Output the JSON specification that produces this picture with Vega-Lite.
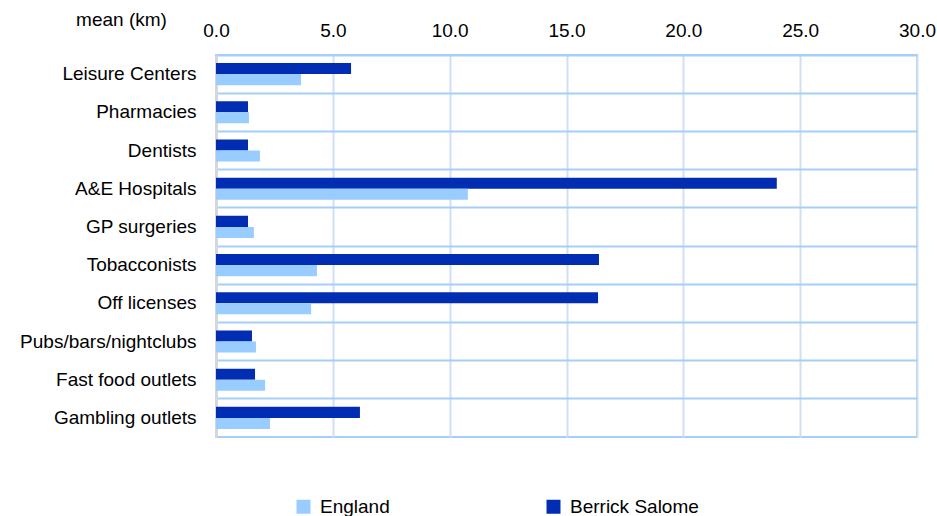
{
  "$schema": "https://vega.github.io/schema/vega-lite/v6.json",
  "width": 701,
  "height": 382,
  "autosize": "none",
  "padding": {"left": 216, "top": 55, "right": 20, "bottom": 79},
  "background": "white",
  "config": {
    "font": "Liberation Sans",
    "view": {"stroke": "#a6cff8", "strokeWidth": 2}
  },
  "data": {
    "values": [
      {"facility": "Leisure Centers", "area": "Berrick Salome", "km": 5.78},
      {"facility": "Leisure Centers", "area": "England", "km": 3.64},
      {"facility": "Pharmacies", "area": "Berrick Salome", "km": 1.37},
      {"facility": "Pharmacies", "area": "England", "km": 1.41},
      {"facility": "Dentists", "area": "Berrick Salome", "km": 1.37},
      {"facility": "Dentists", "area": "England", "km": 1.88},
      {"facility": "A&E Hospitals", "area": "Berrick Salome", "km": 24.0},
      {"facility": "A&E Hospitals", "area": "England", "km": 10.78},
      {"facility": "GP surgeries", "area": "Berrick Salome", "km": 1.37},
      {"facility": "GP surgeries", "area": "England", "km": 1.62},
      {"facility": "Tobacconists", "area": "Berrick Salome", "km": 16.39},
      {"facility": "Tobacconists", "area": "England", "km": 4.32},
      {"facility": "Off licenses", "area": "Berrick Salome", "km": 16.35},
      {"facility": "Off licenses", "area": "England", "km": 4.07},
      {"facility": "Pubs/bars/nightclubs", "area": "Berrick Salome", "km": 1.54},
      {"facility": "Pubs/bars/nightclubs", "area": "England", "km": 1.71},
      {"facility": "Fast food outlets", "area": "Berrick Salome", "km": 1.67},
      {"facility": "Fast food outlets", "area": "England", "km": 2.1},
      {"facility": "Gambling outlets", "area": "Berrick Salome", "km": 6.16},
      {"facility": "Gambling outlets", "area": "England", "km": 2.31}
    ]
  },
  "mark": {"type": "bar"},
  "encoding": {
    "y": {
      "field": "facility",
      "type": "nominal",
      "sort": null,
      "scale": {"paddingInner": 0, "paddingOuter": 0},
      "axis": {
        "title": null,
        "grid": true,
        "bandPosition": 0,
        "gridColor": "#a6cff8",
        "gridWidth": 2,
        "ticks": false,
        "domain": true,
        "domainColor": "#d2d8de",
        "domainWidth": 3,
        "labelFontSize": 19,
        "labelColor": "#000000",
        "labelPadding": 20
      }
    },
    "yOffset": {
      "field": "area",
      "type": "nominal",
      "sort": ["Berrick Salome", "England"],
      "scale": {"paddingOuter": 0.73, "paddingInner": 0}
    },
    "x": {
      "field": "km",
      "type": "quantitative",
      "scale": {"domain": [0, 30], "nice": false},
      "axis": {
        "orient": "top",
        "values": [0, 5, 10, 15, 20, 25, 30],
        "format": ".1f",
        "title": "mean (km)",
        "titleFontSize": 19,
        "titleFontWeight": "normal",
        "titleColor": "#000000",
        "titleX": -95,
        "titleY": -36,
        "titleAlign": "center",
        "titleBaseline": "middle",
        "titleAngle": 0,
        "labelFontSize": 19,
        "labelColor": "#000000",
        "labelPadding": 15,
        "labelFlush": false,
        "domain": false,
        "ticks": false,
        "grid": true,
        "gridColor": "#cfe0f4",
        "gridWidth": 2
      }
    },
    "color": {
      "field": "area",
      "type": "nominal",
      "scale": {"domain": ["England", "Berrick Salome"], "range": ["#99ccff", "#002db2"]},
      "legend": {
        "title": null,
        "orient": "none",
        "direction": "horizontal",
        "legendX": 78,
        "legendY": 442,
        "symbolType": "square",
        "symbolSize": 196,
        "symbolStrokeWidth": 0,
        "labelFontSize": 19,
        "labelColor": "#000000",
        "labelOffset": 7,
        "columnPadding": 154
      }
    }
  }
}
